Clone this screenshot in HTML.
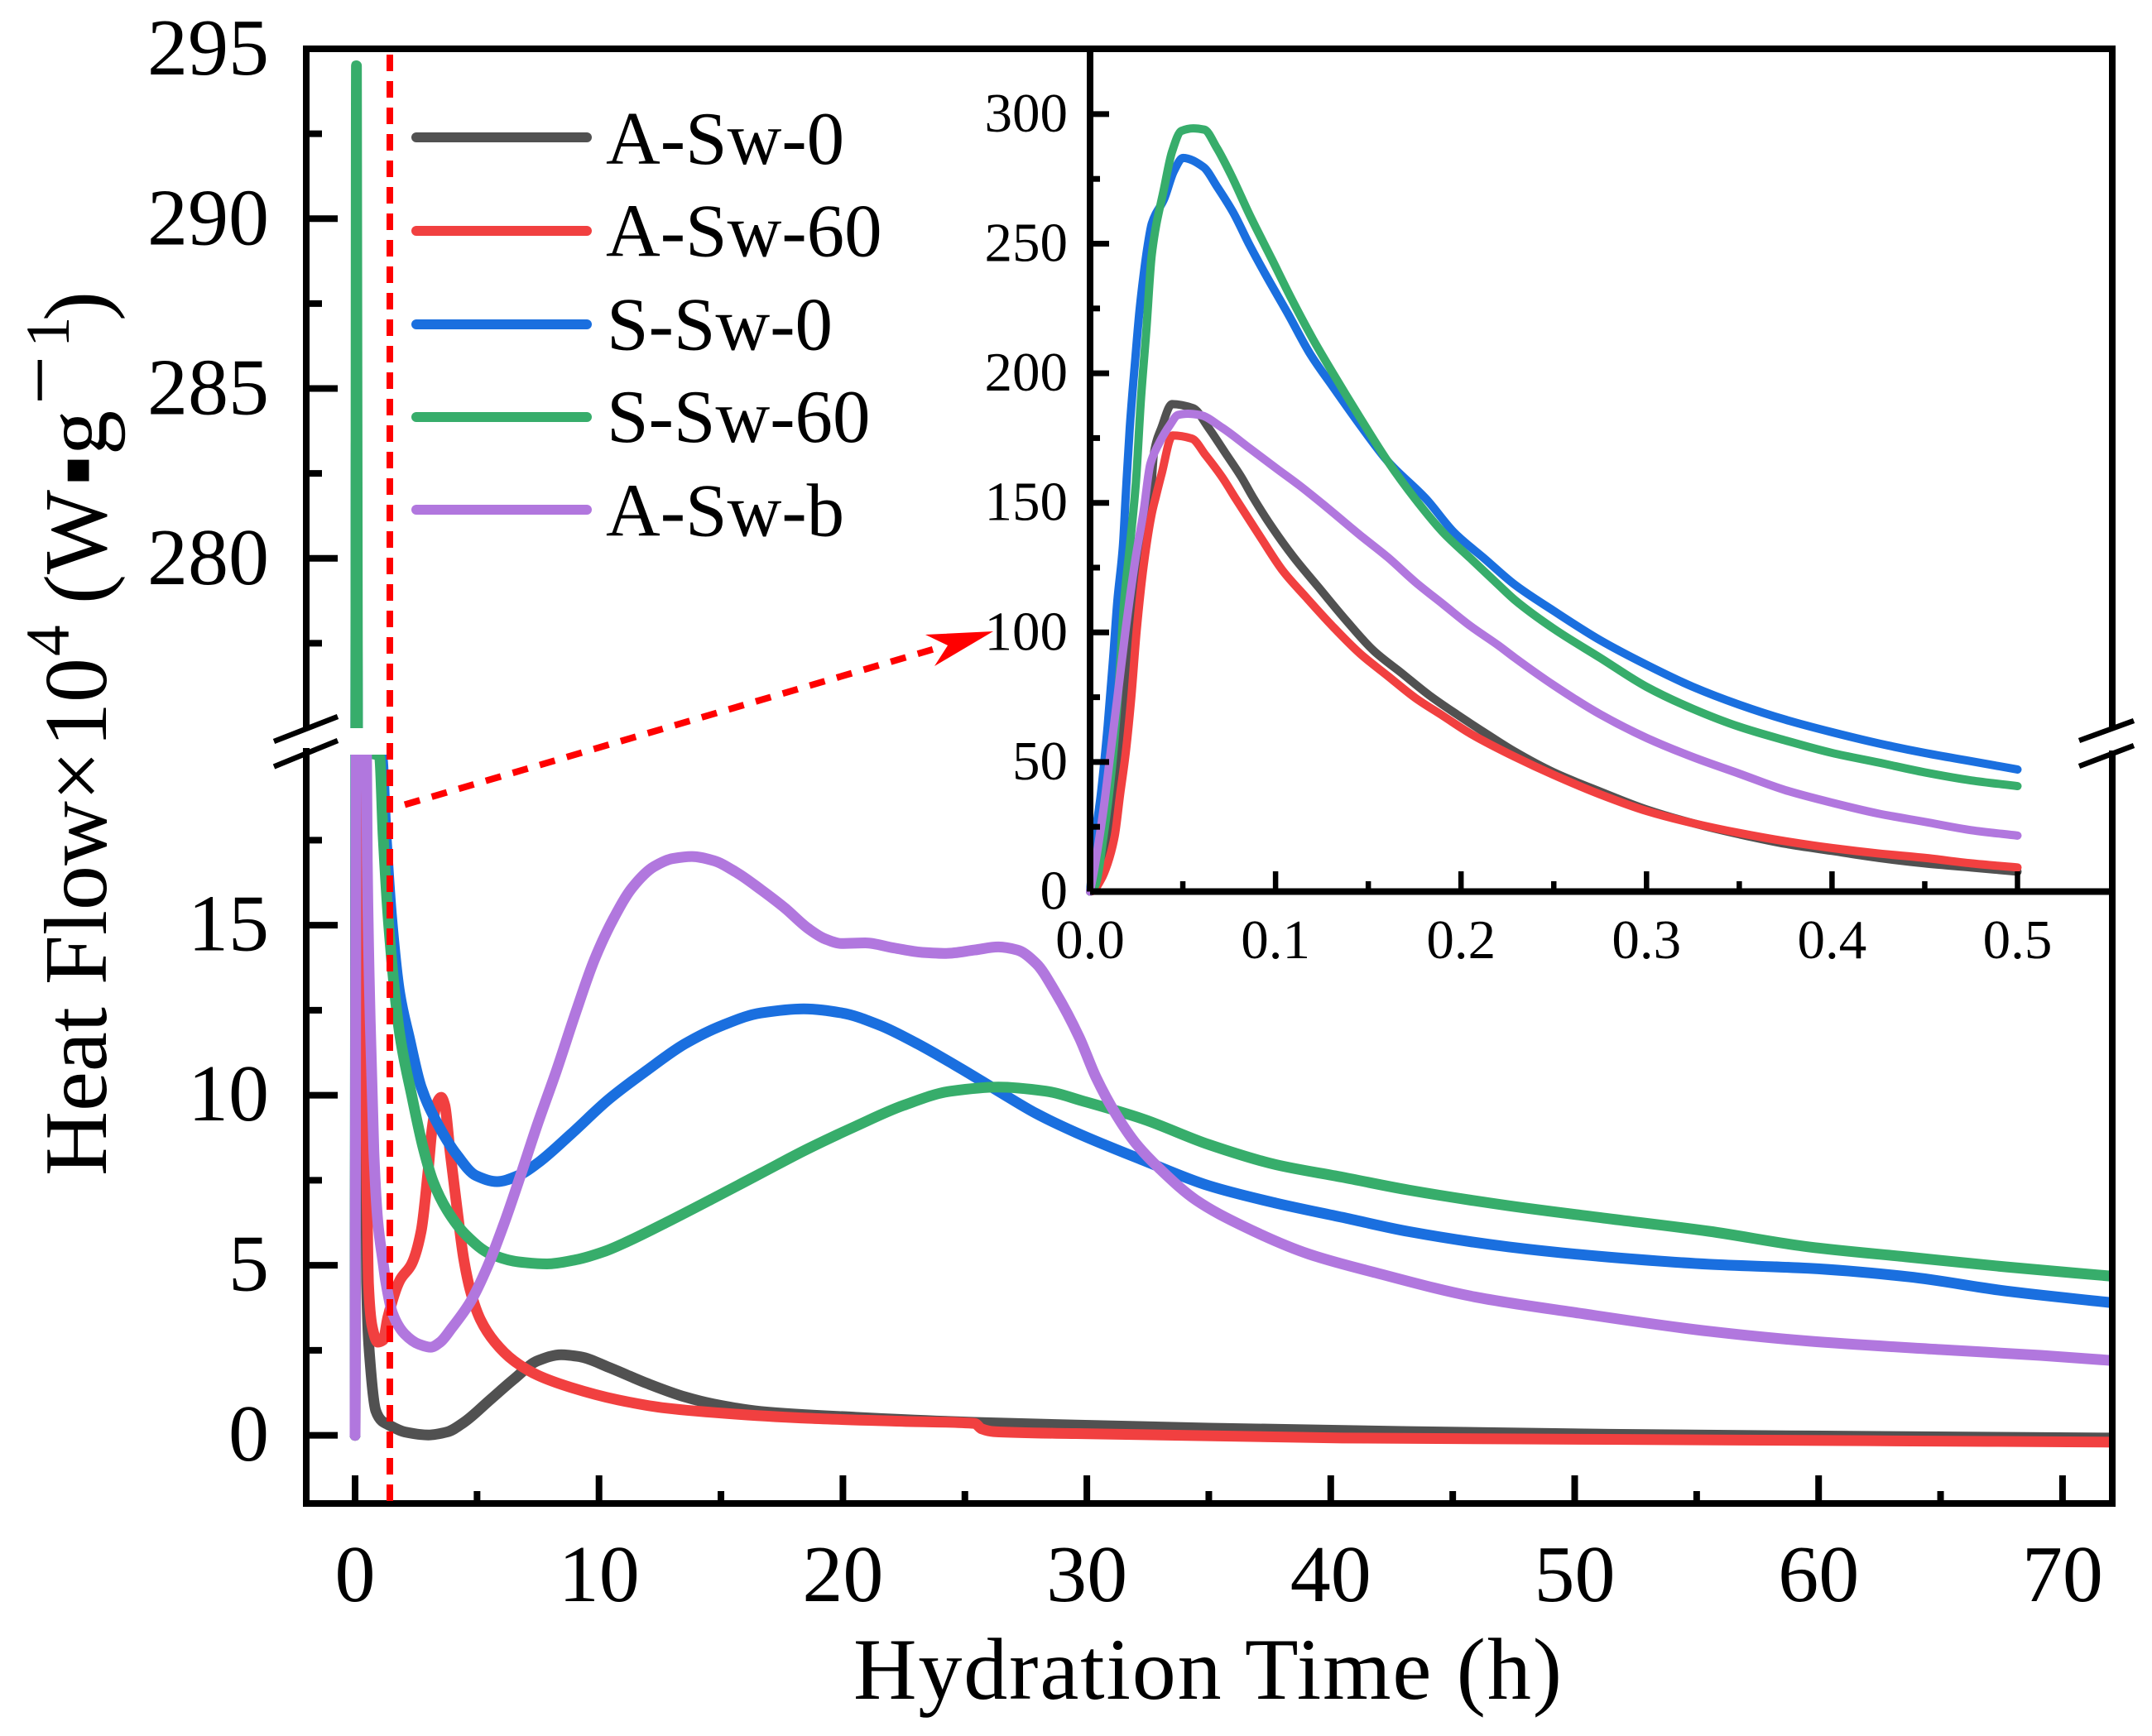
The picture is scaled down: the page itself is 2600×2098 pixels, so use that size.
<!DOCTYPE html>
<html lang="en">
<head>
<meta charset="utf-8">
<title>Heat Flow vs Hydration Time</title>
<style>
html,body{margin:0;padding:0;background:#fff;}
svg{display:block;}
text{font-family:"Liberation Serif",serif;fill:#000;}
</style>
</head>
<body>
<svg id="chart" xmlns="http://www.w3.org/2000/svg" width="2600" height="2098" viewBox="0 0 2600 2098">
  <defs>
    <clipPath id="main-clip">
      <rect x="370" y="59" width="2182" height="821"/>
      <rect x="370" y="912" width="2182" height="905"/>
    </clipPath>
  </defs>
  <rect x="0" y="0" width="2600" height="2098" fill="#fff"/>
  <g id="main-series" clip-path="url(#main-clip)"></g>
  <g id="inset-series"></g>
  <g id="axes" stroke="#000" stroke-width="8" fill="none">
    <line x1="370" y1="55" x2="370" y2="881"/>
    <line x1="370" y1="904" x2="370" y2="1821"/>
    <line x1="2552" y1="55" x2="2552" y2="880"/>
    <line x1="2552" y1="907" x2="2552" y2="1821"/>
    <line x1="366" y1="59" x2="2556" y2="59"/>
    <line x1="366" y1="1817" x2="2556" y2="1817"/>
    <line x1="1317" y1="59" x2="1317" y2="1077.5"/>
    <line x1="1317" y1="1077.5" x2="2552" y2="1077.5"/>
    <g stroke-width="6.5">
      <line x1="331" y1="896" x2="408" y2="866"/>
      <line x1="331" y1="926.5" x2="408" y2="895"/>
      <line x1="2512" y1="895" x2="2578" y2="871"/>
      <line x1="2512" y1="926" x2="2578" y2="901"/>
    </g>
  </g>
  <g id="ticks"></g>
  <g id="labels"></g>

  <line x1="471" y1="66" x2="471" y2="1817" stroke="#f00" stroke-width="8" stroke-dasharray="20 12"/>
  <line x1="489" y1="972.5" x2="1140" y2="781" stroke="#f00" stroke-width="8" stroke-dasharray="19 15"/>
  <polygon points="1200,763 1118,767 1145,780 1129,805" fill="#f00"/>

  <g>
    <line x1="503" y1="166" x2="709" y2="166" stroke="#515151" stroke-width="12" stroke-linecap="round"/>
    <line x1="503" y1="279" x2="709" y2="279" stroke="#F14040" stroke-width="12" stroke-linecap="round"/>
    <line x1="503" y1="392" x2="709" y2="392" stroke="#1A6FDF" stroke-width="12" stroke-linecap="round"/>
    <line x1="503" y1="504" x2="709" y2="504" stroke="#37AD6B" stroke-width="12" stroke-linecap="round"/>
    <line x1="503" y1="616" x2="709" y2="616" stroke="#B177DE" stroke-width="12" stroke-linecap="round"/>
    <text x="732" y="198" font-size="91">A-Sw-0</text>
    <text x="732" y="309.5" font-size="91">A-Sw-60</text>
    <text x="733" y="422.5" font-size="91">S-Sw-0</text>
    <text x="733" y="534" font-size="91">S-Sw-60</text>
    <text x="732" y="647.5" font-size="91">A-Sw-b</text>
  </g>

  <text x="1031" y="2053" font-size="106" textLength="856">Hydration Time (h)</text>

  <g>
    <text transform="translate(128,1421) rotate(-90)" font-size="108">Heat Flow×</text>
    <text transform="translate(128,903) rotate(-90)" font-size="108">10</text>
    <text transform="translate(83,793) rotate(-90)" font-size="75">4</text>
    <text transform="translate(128,730) rotate(-90)" font-size="108">(W</text>
    <text transform="translate(127,587) rotate(-90)" font-size="104">▪</text>
    <text transform="translate(128,550) rotate(-90)" font-size="108">g</text>
    <text transform="translate(83,489) rotate(-90)" font-size="105">−</text>
    <text transform="translate(83,420) rotate(-90)" font-size="75">1</text>
    <text transform="translate(128,388) rotate(-90)" font-size="108">)</text>
  </g>
</svg>
<script>
// ---- main chart data: hydration time (h) and heat flow ----
const grayTime   = [0,0.05,0.1,0.2,0.3,0.38,0.42,0.47,0.62,0.85,1.1,1.34,2.03,3,3.78,4.46,5.53,6.51,7.48,8.45,9.23,10.4,11.96,13.52,14.69,16.63,20.53,25.4,29.56,35,43.2,51.4,59.6,72];
const grayValues = [0,188,139,64,32,20,11,4.5,2.12,0.72,0.42,0.32,0.1,0.01,0.1,0.38,1.04,1.65,2.19,2.37,2.31,2,1.53,1.13,0.92,0.7,0.53,0.38,0.3,0.21,0.11,0.03,-0.02,-0.08];

const redTime   = [0,0.05,0.1,0.2,0.3,0.38,0.42,0.5,0.55,0.7,0.93,1.15,1.34,1.83,2.32,2.71,3,3.16,3.35,3.53,3.68,3.88,4.17,4.46,4.75,5.14,5.73,6.51,7.48,8.84,10.79,12.74,15.66,18.58,22.48,25.4,25.69,26.18,29.56,40.47,51.4,62,72];
const redValues = [0,176,130,63,32,20,11,6.5,4.45,3.2,2.74,2.8,3.46,4.55,5.04,6.01,7.82,9.03,9.76,9.94,9.7,8.43,6.73,5.16,4.19,3.4,2.74,2.19,1.77,1.41,1.04,0.8,0.62,0.5,0.41,0.35,0.19,0.11,0.05,-0.08,-0.12,-0.16,-0.2];

const blueTime   = [0,0.05,0.1,0.2,0.3,0.4,0.5,0.75,1.09,1.27,1.49,1.83,2.22,2.71,3.39,4.17,4.95,5.82,6.7,7.48,8.84,10.4,11.96,13.52,15.08,16.63,18.39,19.95,21.5,23.06,24.82,26.37,27.93,29.56,32.3,35,37.74,40.47,43.2,47.3,51.4,55.5,59.6,63.7,67.7,72];
const blueValues = [0,283.4,229,132.7,82,61,47,29,20,17.64,15.3,13,11.7,10.24,9.15,8.25,7.64,7.46,7.64,8,8.85,9.88,10.73,11.51,12.06,12.42,12.54,12.42,12.06,11.51,10.79,10.12,9.46,8.9,8.09,7.34,6.83,6.41,5.99,5.54,5.24,5.03,4.91,4.66,4.24,3.9];

const greenTime   = [0,0.03,0.056,0.1,0.2,0.3,0.4,0.5,0.75,1,1.15,1.38,1.83,2.32,2.8,3.2,3.78,4.56,5.53,6.7,7.87,9.04,10.2,11.18,12.74,14.69,16.63,18.58,20.53,22.48,24.43,26.37,28.32,29.88,32.3,35,37.74,40.47,43.2,47.3,51.4,55.5,59.6,63.7,67.7,72];
const greenValues = [0,226,294.5,239,129,79,53.5,40.7,27,19.97,17.64,15,11.8,10,8.43,7.46,6.61,5.88,5.34,5.1,5.04,5.16,5.4,5.7,6.25,6.97,7.7,8.43,9.09,9.7,10.12,10.24,10.12,9.82,9.3,8.55,7.96,7.59,7.21,6.75,6.37,6,5.54,5.24,4.95,4.68];

const purpleTime   = [0,0.05,0.1,0.2,0.3,0.4,0.47,0.5,0.62,0.77,0.93,1.15,1.25,1.54,2.03,2.61,3.1,3.49,3.97,4.75,5.44,6.12,6.7,7.48,8.26,9.04,9.82,10.6,11.37,12.25,13.03,13.81,14.69,15.66,16.63,17.61,18.58,19.26,19.95,20.92,22.09,23.26,24.23,25.4,26.37,27.15,27.93,28.71,29.69,30.38,31.2,32,33.1,34.47,36.38,39.1,41.84,45.9,50,55.5,59.6,65,69.1,72];
const purpleValues = [0,184,159.5,99.7,57,32.5,20,16.9,12.2,8.33,6.3,5.07,4.55,3.58,2.98,2.68,2.59,2.74,3.16,3.95,4.98,6.25,7.46,9.15,10.73,12.42,14,15.2,16.11,16.72,16.96,17.02,16.9,16.54,16.05,15.51,14.9,14.6,14.46,14.48,14.33,14.2,14.17,14.27,14.36,14.27,13.87,13.03,11.7,10.52,9.43,8.59,7.76,6.92,6.16,5.33,4.78,4.07,3.61,3.06,2.77,2.52,2.35,2.2];

// ---- inset data: first half hour ----
const insetGrayTime   = [0,0.0028,0.0073,0.0118,0.0155,0.0199,0.0265,0.0325,0.0345,0.0385,0.0442,0.0556,0.0638,0.0727,0.0816,0.0876,0.098,0.1098,0.1233,0.1382,0.1531,0.168,0.1828,0.1977,0.2126,0.229,0.25,0.275,0.3,0.325,0.35,0.375,0.4,0.425,0.45,0.475,0.5];
const insetGrayValues = [0,2.4,13,32,53.4,85.4,120,150,169.5,179,188.1,186.5,179,169.5,159.9,152.4,140.7,129,117.3,104.5,92.8,84.3,75.8,68.4,61.4,54,46,38.6,31.7,26.4,22.1,18.4,15.7,13,10.9,9.3,7.7];

const insetRedTime   = [0,0.0013,0.0058,0.0095,0.0133,0.0162,0.0192,0.0222,0.0252,0.0289,0.0333,0.0355,0.0385,0.0445,0.0549,0.0623,0.0712,0.0787,0.0921,0.104,0.1159,0.1307,0.1456,0.1605,0.1754,0.1903,0.2052,0.229,0.25,0.275,0.3,0.325,0.35,0.375,0.4,0.425,0.45,0.475,0.5];
const insetRedValues = [0,0.2,4.5,10.9,21.5,37.5,53.4,74.7,101.3,125.8,146,152.5,161,176,174.8,168.4,159.9,151.4,136.5,123.7,114,102.4,91.8,83.2,74.7,67.8,60.9,52,45,37.5,31.1,26.4,22.6,19.4,16.8,14.7,13,10.9,9.3];

const insetBlueTime   = [0,0.0028,0.0058,0.0095,0.0125,0.0147,0.0177,0.0192,0.0214,0.0244,0.0266,0.0288,0.031,0.0333,0.04,0.0452,0.0501,0.0611,0.0683,0.0772,0.0861,0.095,0.1069,0.1188,0.1307,0.1456,0.1605,0.1813,0.1962,0.2126,0.229,0.25,0.275,0.3,0.325,0.35,0.375,0.4,0.425,0.45,0.475,0.5];
const insetBlueValues = [0,21.5,37.5,64,90.7,112,133.3,152.5,179,205.7,223.8,237.6,249,257.8,267.4,278,283.1,279.6,272.2,262,249.3,237.6,222.7,207.3,195,180,166,151.4,138.6,128.5,118.4,108.3,97,87.5,79,72.1,66.3,61.5,57.2,53.5,50.3,47.1];

const insetGreenTime   = [0,0.0028,0.0073,0.0118,0.0155,0.0184,0.0214,0.0247,0.0274,0.0303,0.0333,0.04,0.0442,0.0492,0.0556,0.0616,0.0683,0.0757,0.0861,0.098,0.1084,0.1203,0.1307,0.1456,0.1605,0.1754,0.1903,0.2052,0.2201,0.229,0.25,0.275,0.3,0.325,0.35,0.375,0.4,0.425,0.45,0.475,0.5];
const insetGreenValues = [0,2.4,21.5,48,80,112,133,157.8,189.7,216.3,246,271.7,285.5,293.5,294.5,294,287,277,261,244,229,213,200.3,182.8,166,151.4,138.6,128.5,118.4,112.5,101.4,90.2,79,70.5,63.6,58.3,53.5,49.8,46,42.9,40.7];

const insetPurpleTime   = [0,0.0028,0.0073,0.011,0.0147,0.0192,0.0244,0.0289,0.0325,0.037,0.043,0.0474,0.0526,0.0593,0.0712,0.0861,0.101,0.1129,0.1277,0.1456,0.1605,0.1754,0.1903,0.2052,0.2201,0.229,0.25,0.275,0.3,0.325,0.35,0.375,0.4,0.425,0.45,0.475,0.5];
const insetPurpleValues = [0,10.9,32,53.4,74.7,101.3,128,147,165,172.7,180,183.9,184.4,183.9,179,171,163,156.7,148.2,137.5,129,119.4,110.9,102.4,95,90.2,79.6,68.4,59.3,51.9,45.5,39.1,34.3,30.1,26.9,23.7,21.6];

// ---- tick labels ----
const xMajorTicks = [0,10,20,30,40,50,60,70];
const xMinorTicks = [5,15,25,35,45,55,65];
const yLowerMajorTicks = [0,5,10,15];
const yLowerMinorTicks = [2.5,7.5,12.5,17.5];
const yUpperMajorTicks = [280,285,290,295];
const yUpperMinorTicks = [277.5,282.5,287.5,292.5];
const insetXMajorTicks = [0.1,0.2,0.3,0.4,0.5];
const insetXMinorTicks = [0.05,0.15,0.25,0.35,0.45];
const insetXLabels = [0,0.1,0.2,0.3,0.4,0.5];
const insetYMajorTicks = [50,100,150,200,250,300];
const insetYMinorTicks = [25,75,125,175,225,275];
const insetYLabels = [0,50,100,150,200,250,300];

// ---- axis functions ----
function xMain(h){ return 429 + 29.47*h; }
function yMain(v){
  if(v<=20) return 1734.6 - 41.1*v;
  if(v>=275) return 880 - 41.05*(v-275);
  return 912 - 32*(v-20)/255;
}
function xInset(t){ return 1317 + 2241*t; }
function yInset(v){ return 1077.5 - 3.132*v; }

const NS = 'http://www.w3.org/2000/svg';

// monotone cubic path through pixel points
function smoothPath(xs, ys){
  const n = xs.length;
  const d = [], m = new Array(n).fill(0);
  for(let i=0;i<n-1;i++) d.push((ys[i+1]-ys[i])/(xs[i+1]-xs[i]));
  m[0]=d[0]; m[n-1]=d[n-2];
  for(let i=1;i<n-1;i++){
    if(d[i-1]*d[i]<=0){ m[i]=0; }
    else{
      const h0=xs[i]-xs[i-1], h1=xs[i+1]-xs[i];
      const w1=2*h1+h0, w2=h1+2*h0;
      m[i]=(w1+w2)/(w1/d[i-1]+w2/d[i]);
    }
  }
  let p='M'+xs[0].toFixed(2)+' '+ys[0].toFixed(2);
  for(let i=0;i<n-1;i++){
    const h=(xs[i+1]-xs[i])/3;
    p+=' C'+(xs[i]+h).toFixed(2)+' '+(ys[i]+m[i]*h).toFixed(2)+' '+(xs[i+1]-h).toFixed(2)+' '+(ys[i+1]-m[i+1]*h).toFixed(2)+' '+xs[i+1].toFixed(2)+' '+ys[i+1].toFixed(2);
  }
  return p;
}

function addCurve(parent, xs, ys, color, width, name){
  const el = document.createElementNS(NS,'path');
  el.setAttribute('d', smoothPath(xs, ys));
  el.setAttribute('fill','none');
  el.setAttribute('stroke',color);
  el.setAttribute('stroke-width',width);
  el.setAttribute('stroke-linecap','round');
  el.setAttribute('stroke-linejoin','round');
  
  
  parent.appendChild(el);
}

function addTick(x1,y1,x2,y2,width,name){
  const el = document.createElementNS(NS,'line');
  el.setAttribute('x1',x1); el.setAttribute('y1',y1);
  el.setAttribute('x2',x2); el.setAttribute('y2',y2);
  el.setAttribute('stroke','#000');
  el.setAttribute('stroke-width',width);
  
  
  document.getElementById('ticks').appendChild(el);
}

function addLabel(x,y,txt,size,anchor,name){
  const el = document.createElementNS(NS,'text');
  el.setAttribute('x',x); el.setAttribute('y',y);
  el.setAttribute('font-size',size);
  el.setAttribute('text-anchor',anchor);
  el.textContent = txt;
  
  
  document.getElementById('labels').appendChild(el);
}

const mainGroup = document.getElementById('main-series');
const insetGroup = document.getElementById('inset-series');

addCurve(mainGroup, grayTime.map(xMain), grayValues.map(yMain), '#515151', 13, 'curve-a-sw-0');
addCurve(mainGroup, redTime.map(xMain), redValues.map(yMain), '#F14040', 13, 'curve-a-sw-60');
addCurve(mainGroup, blueTime.map(xMain), blueValues.map(yMain), '#1A6FDF', 13, 'curve-s-sw-0');
addCurve(mainGroup, greenTime.map(xMain), greenValues.map(yMain), '#37AD6B', 13, 'curve-s-sw-60');
addCurve(mainGroup, purpleTime.map(xMain), purpleValues.map(yMain), '#B177DE', 13, 'curve-a-sw-b');

addCurve(insetGroup, insetGrayTime.map(xInset), insetGrayValues.map(yInset), '#515151', 10, 'inset-curve-a-sw-0');
addCurve(insetGroup, insetRedTime.map(xInset), insetRedValues.map(yInset), '#F14040', 10, 'inset-curve-a-sw-60');
addCurve(insetGroup, insetBlueTime.map(xInset), insetBlueValues.map(yInset), '#1A6FDF', 10, 'inset-curve-s-sw-0');
addCurve(insetGroup, insetGreenTime.map(xInset), insetGreenValues.map(yInset), '#37AD6B', 10, 'inset-curve-s-sw-60');
addCurve(insetGroup, insetPurpleTime.map(xInset), insetPurpleValues.map(yInset), '#B177DE', 10, 'inset-curve-a-sw-b');

xMajorTicks.forEach(function(h){
  addTick(xMain(h),1817,xMain(h),1783,8,'x-major-tick');
  addLabel(xMain(h),1935,String(h),98,'middle','x-tick-label');
});
xMinorTicks.forEach(function(h){ addTick(xMain(h),1817,xMain(h),1802,8,'x-minor-tick'); });

yLowerMajorTicks.forEach(function(v){
  addTick(370,yMain(v),408,yMain(v),8,'y-major-tick');
  addLabel(325,yMain(v)+30.5,String(v),98,'end','y-tick-label');
});
yLowerMinorTicks.forEach(function(v){ addTick(370,yMain(v),389,yMain(v),8,'y-minor-tick'); });
yUpperMajorTicks.forEach(function(v){
  addTick(370,yMain(v),408,yMain(v),8,'y-major-tick');
  addLabel(325,yMain(v)+31,String(v),98,'end','y-tick-label');
});
yUpperMinorTicks.forEach(function(v){ addTick(370,yMain(v),389,yMain(v),8,'y-minor-tick'); });

insetXMajorTicks.forEach(function(t){ addTick(xInset(t),1077.5,xInset(t),1053,6.5,'inset-x-major-tick'); });
insetXMinorTicks.forEach(function(t){ addTick(xInset(t),1077.5,xInset(t),1065,6.5,'inset-x-minor-tick'); });
insetXLabels.forEach(function(t){ addLabel(xInset(t),1158,t.toFixed(1),67,'middle','inset-x-tick-label'); });
insetYMajorTicks.forEach(function(v){ addTick(1317,yInset(v),1340,yInset(v),7,'inset-y-major-tick'); });
insetYMinorTicks.forEach(function(v){ addTick(1317,yInset(v),1329,yInset(v),7,'inset-y-minor-tick'); });
insetYLabels.forEach(function(v){ addLabel(1290,yInset(v)+21,String(v),67,'end','inset-y-tick-label'); });
</script>
</body>
</html>
